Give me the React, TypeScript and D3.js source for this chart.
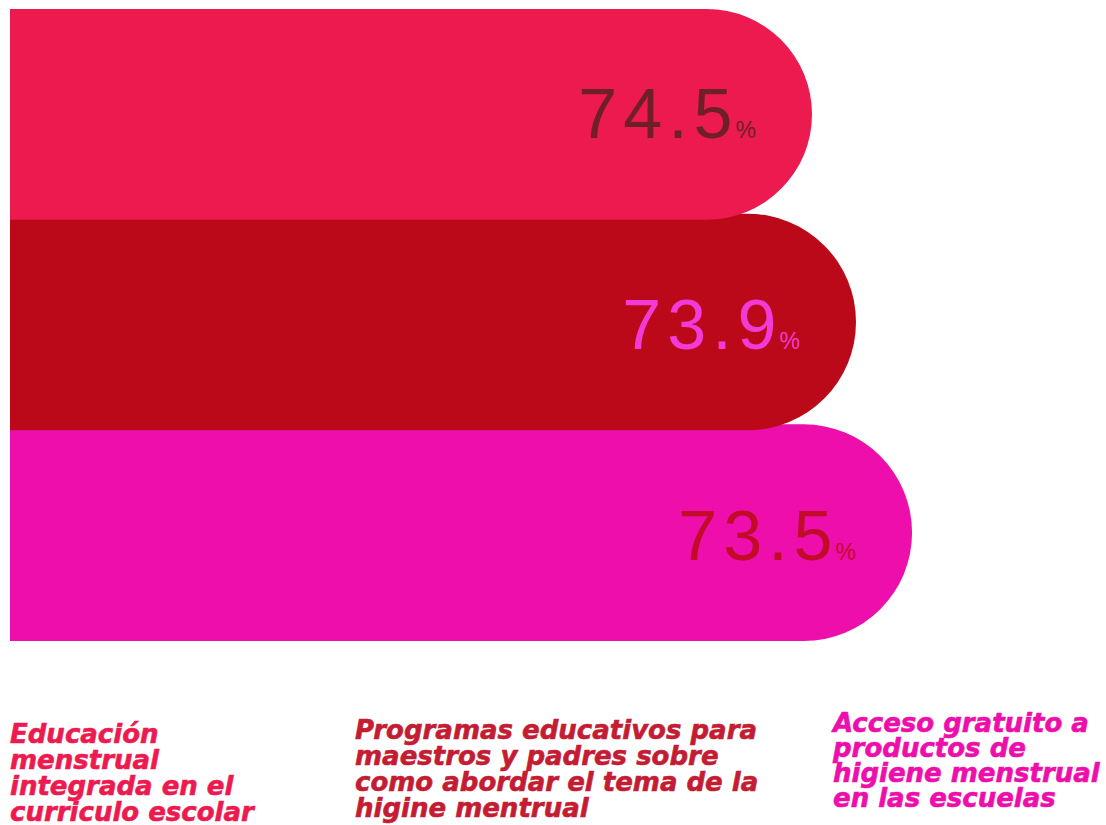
import * as d3 from "d3";

// three rounded bars, value in the bar, label block underneath

const categories = ["educacion", "programas", "acceso"];
const values = [74.5, 73.9, 73.5];
// how far each bar reaches on a 0-100 scale
const barReach = [80.2, 84.6, 90.2];
const labelLines = [
  ["Educación", "menstrual", "integrada en el", "curriculo escolar"],
  ["Programas educativos para", "maestros y padres sobre", "como abordar el tema de la", "higine mentrual"],
  ["Acceso gratuito a", "productos de", "higiene menstrual", "en las escuelas"],
];

const barColors = ["#ed1a50", "#bc0919", "#ee0eab"];
const valueColors = ["#6e1f2a", "#f23ad6", "#c20a29"];
const labelColors = ["#ed1a50", "#c41c33", "#ee0eab"];

// label block placement
const labelX = [10, 355, 833];
const labelTop = [743, 739, 732];
const lineGap = [26, 26, 25];

const width = 1106;
const height = 825;
const overlap = 6;

export default function App() {
  const x = d3.scaleLinear([0, 100], [10, 1010]);
  const y = d3.scaleBand<string>().domain(categories).range([9, 641]).paddingInner(0);
  const bw = y.bandwidth();

  const barPath = (i: number) => {
    const top = y(categories[i])! - (i > 0 ? overlap : 0);
    const bottom = y(categories[i])! + bw;
    const h = bottom - top;
    const r = h / 2;
    const x0 = x(0);
    const x1 = x(barReach[i]);
    const p = d3.path();
    p.moveTo(x0, top);
    p.lineTo(x1 - r, top);
    p.arc(x1 - r, top + r, r, -Math.PI / 2, Math.PI / 2);
    p.lineTo(x0, bottom);
    p.closePath();
    return p.toString();
  };

  // later bars sit underneath the earlier ones
  const order = d3.range(categories.length).reverse();

  return (
    <div style={{ position: "absolute", left: 0, top: 0 }}>
      <svg width={width} height={height} style={{ display: "block" }}>
        {order.map((i) => (
          <path key={categories[i]} d={barPath(i)} fill={barColors[i]} />
        ))}
        {categories.map((c, i) => {
          const cy = y(c)! + bw / 2;
          return (
            <text
              key={c + "-v"}
              x={x(barReach[i]) - 56}
              y={cy + 24}
              textAnchor="end"
              fill={valueColors[i]}
              fontFamily="'Liberation Sans', Arial, sans-serif"
            >
              <tspan fontSize={70} letterSpacing={6}>{d3.format(".1f")(values[i])}</tspan>
              <tspan fontSize={23} dx={-3}>%</tspan>
            </text>
          );
        })}
        {categories.map((c, i) => (
          <text
            key={c + "-l"}
            fill={labelColors[i]}
            stroke={labelColors[i]}
            strokeWidth={0.6}
            fontFamily="'DejaVu Sans', sans-serif"
            fontWeight="bold"
            fontStyle="italic"
            fontSize={26}
          >
            {labelLines[i].map((line, j) => (
              <tspan key={j} x={labelX[i]} y={labelTop[i] + j * lineGap[i]}>
                {line}
              </tspan>
            ))}
          </text>
        ))}
      </svg>
    </div>
  );
}
